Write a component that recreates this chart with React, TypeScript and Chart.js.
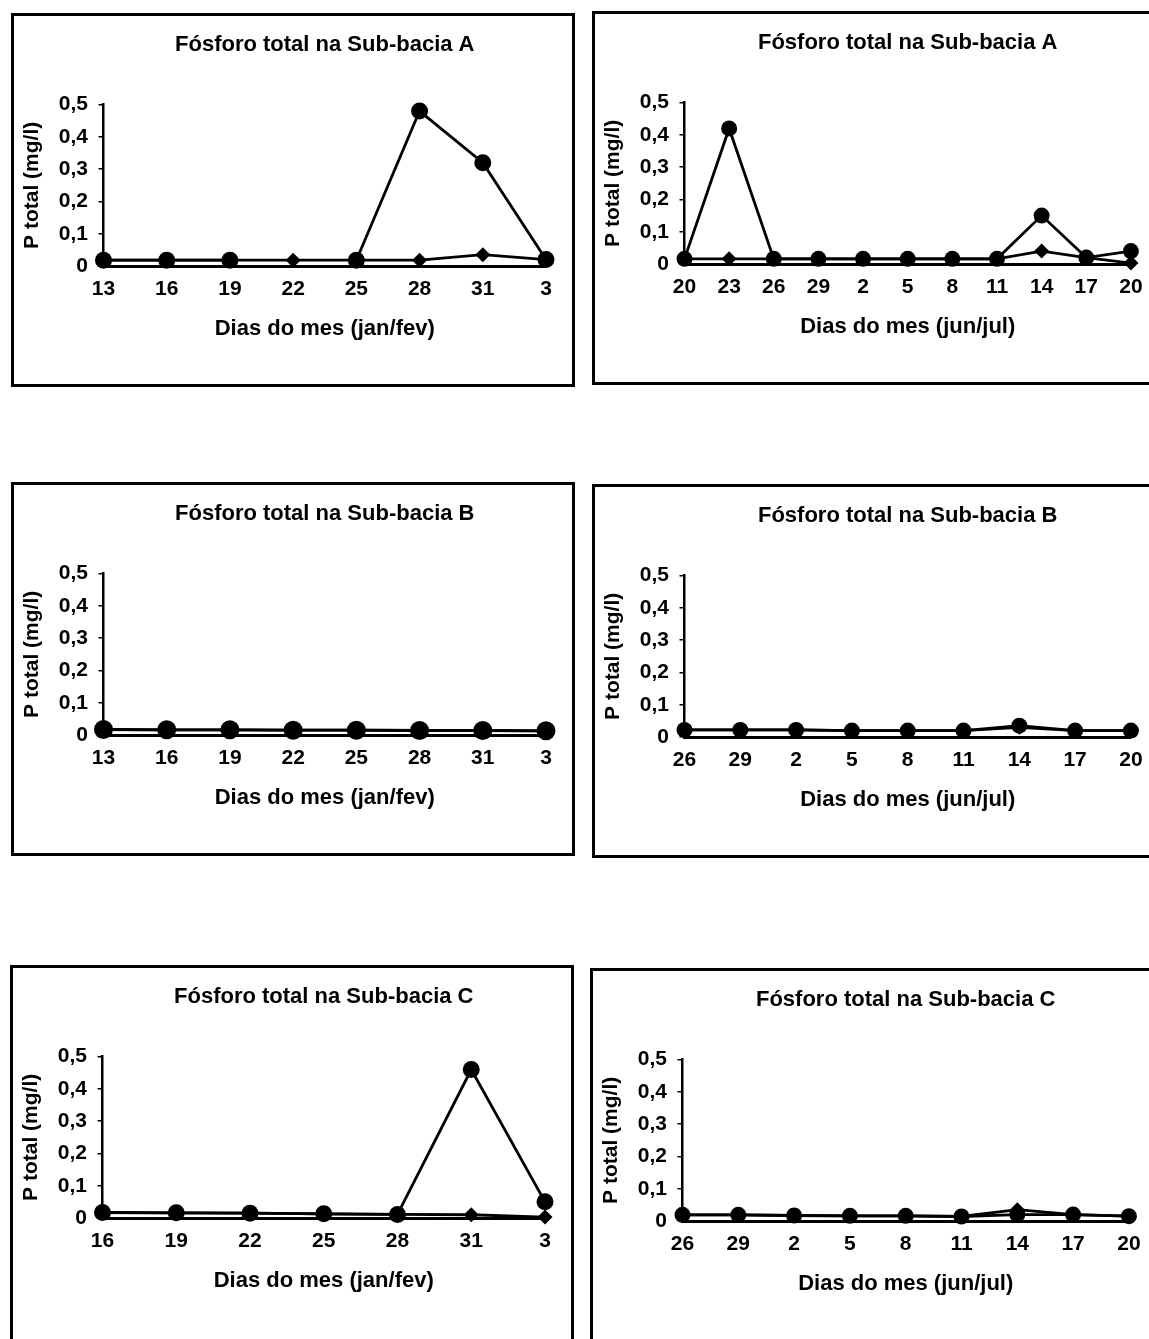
import React, { useEffect, useRef } from "react";
import { Chart, registerables } from "chart.js";

Chart.register(...registerables);

// ---------- data ----------
const titleA = "Fósforo total na Sub-bacia A";
const titleB = "Fósforo total na Sub-bacia B";
const titleC = "Fósforo total na Sub-bacia C";
const xTitleJanFev = "Dias do mes (jan/fev)";
const xTitleJunJul = "Dias do mes (jun/jul)";
const yTitle = "P total (mg/l)";
const yTickValues = [0, 0.1, 0.2, 0.3, 0.4, 0.5];

const daysA1 = ["13", "16", "19", "22", "25", "28", "31", "3"];
const circlesA1 = [0.018, 0.018, 0.018, null, 0.018, 0.48, 0.32, 0.02];
const diamondsA1 = [0.018, 0.018, 0.018, 0.018, 0.018, 0.018, 0.035, 0.02];

const daysA2 = ["20", "23", "26", "29", "2", "5", "8", "11", "14", "17", "20"];
const circlesA2 = [0.016, 0.42, 0.016, 0.016, 0.016, 0.016, 0.016, 0.016, 0.15, 0.02, 0.04];
const diamondsA2 = [0.016, 0.016, 0.016, 0.016, 0.016, 0.016, 0.016, 0.016, 0.04, 0.02, 0.003];

const daysB1 = ["13", "16", "19", "22", "25", "28", "31", "3"];
const circlesB1 = [0.017, 0.016, 0.016, 0.015, 0.015, 0.014, 0.014, 0.013];
const diamondsB1 = [0.017, 0.016, 0.016, 0.015, 0.015, 0.014, 0.014, 0.013];

const daysB2 = ["26", "29", "2", "5", "8", "11", "14", "17", "20"];
const circlesB2 = [0.022, 0.022, 0.022, 0.02, 0.02, 0.02, 0.035, 0.02, 0.02];
const diamondsB2 = [0.022, 0.022, 0.022, 0.02, 0.02, 0.02, 0.03, 0.02, 0.02];

const daysC1 = ["16", "19", "22", "25", "28", "31", "3"];
const circlesC1 = [0.017, 0.016, 0.015, 0.013, 0.011, 0.46, 0.05];
const diamondsC1 = [0.017, 0.016, 0.015, 0.013, 0.011, 0.01, 0.003];

const daysC2 = ["26", "29", "2", "5", "8", "11", "14", "17", "20"];
const circlesC2 = [0.019, 0.019, 0.017, 0.016, 0.016, 0.014, 0.02, 0.02, 0.015];
const diamondsC2 = [0.019, 0.019, 0.017, 0.016, 0.016, 0.014, 0.035, 0.02, 0.015];

// ---------- layout / style ----------
const FONT = '"Liberation Sans", Arial, Helvetica, sans-serif';
const BOX_W = 564;
const BORDER = 3;
const CW = BOX_W - 2 * BORDER;
const CH = 368;
const CHART_LEFT = 89.5;
const CHART_BOTTOM = 250;
const X_SCALE_H = 100;

type PanelCfg = {
  left: number;
  top: number;
  boxH: number;
  chartRight: number;
  circleR: number;
  title: string;
  xTitle: string;
  labels: string[];
  circles: (number | null)[];
  diamonds: (number | null)[];
};

const panels: PanelCfg[] = [
  { left: 11, top: 13, boxH: 374, chartRight: 532, circleR: 8.5, title: titleA, xTitle: xTitleJanFev, labels: daysA1, circles: circlesA1, diamonds: diamondsA1 },
  { left: 592, top: 11, boxH: 374, chartRight: 536.5, circleR: 8, title: titleA, xTitle: xTitleJunJul, labels: daysA2, circles: circlesA2, diamonds: diamondsA2 },
  { left: 11, top: 482, boxH: 374, chartRight: 532, circleR: 9.5, title: titleB, xTitle: xTitleJanFev, labels: daysB1, circles: circlesB1, diamonds: diamondsB1 },
  { left: 592, top: 484, boxH: 374, chartRight: 536.5, circleR: 8, title: titleB, xTitle: xTitleJunJul, labels: daysB2, circles: circlesB2, diamonds: diamondsB2 },
  { left: 10, top: 965, boxH: 390, chartRight: 532, circleR: 8.5, title: titleC, xTitle: xTitleJanFev, labels: daysC1, circles: circlesC1, diamonds: diamondsC1 },
  { left: 590, top: 968, boxH: 390, chartRight: 536.5, circleR: 8, title: titleC, xTitle: xTitleJunJul, labels: daysC2, circles: circlesC2, diamonds: diamondsC2 },
];

function fmt(v: number) {
  if (Math.abs(v) < 1e-9) return "0";
  return v.toFixed(1).replace(".", ",");
}

function Panel({ cfg }: { cfg: PanelCfg }) {
  const ref = useRef<HTMLCanvasElement>(null);
  useEffect(() => {
    const canvas = ref.current;
    if (!canvas) return;
    const chart = new Chart(canvas, {
      type: "line",
      data: {
        labels: cfg.labels,
        datasets: [
          {
            label: "circulos",
            data: cfg.circles,
            borderColor: "#000",
            backgroundColor: "#000",
            borderWidth: 2.8,
            pointStyle: "circle",
            pointRadius: cfg.circleR,
            pointBorderWidth: 0,
            pointBackgroundColor: "#000",
            tension: 0,
            spanGaps: false,
            clip: false as any,
          },
          {
            label: "losangos",
            data: cfg.diamonds,
            borderColor: "#000",
            backgroundColor: "#000",
            borderWidth: 2.8,
            pointStyle: "rectRot",
            pointRadius: 7.5,
            pointBorderWidth: 0,
            pointBackgroundColor: "#000",
            tension: 0,
            spanGaps: false,
            clip: false as any,
          },
        ],
      },
      options: {
        animation: false,
        responsive: false,
        events: [],
        layout: {
          padding: {
            left: 0,
            top: 0,
            right: CW - cfg.chartRight,
            bottom: CH - CHART_BOTTOM - X_SCALE_H,
          },
        },
        plugins: {
          legend: { display: false },
          tooltip: { enabled: false },
          title: {
            display: true,
            text: cfg.title,
            fullSize: false,
            color: "#000",
            font: { family: FONT, size: 22, weight: "bold" },
            padding: { top: 15.4, bottom: 46.8 },
          },
        },
        scales: {
          x: {
            type: "category",
            offset: false,
            grid: { display: false, drawTicks: false },
            border: { display: true, color: "#000", width: 3 },
            ticks: {
              color: "#000",
              font: { family: FONT, size: 21, weight: "bold" },
              padding: 10.4,
              autoSkip: false,
              maxRotation: 0,
              minRotation: 0,
            },
            title: {
              display: true,
              text: cfg.xTitle,
              color: "#000",
              font: { family: FONT, size: 22, weight: "bold" },
              padding: { top: 0, bottom: 24 },
            },
            afterFit: (s: any) => {
              s.height = X_SCALE_H;
            },
          },
          y: {
            type: "linear",
            min: 0,
            max: 0.5,
            grid: {
              display: true,
              drawOnChartArea: false,
              drawTicks: true,
              tickLength: 5,
              color: "#000",
              lineWidth: 1.5,
            },
            border: { display: true, color: "#000", width: 2.5 },
            afterBuildTicks: (s: any) => {
              s.ticks = yTickValues.map((v) => ({ value: v }));
            },
            ticks: {
              color: "#000",
              font: { family: FONT, size: 21, weight: "bold" },
              padding: 10.5,
              callback: (v: any) => fmt(Number(v)),
            },
            title: {
              display: true,
              text: yTitle,
              color: "#000",
              font: { family: FONT, size: 21, weight: "bold" },
              padding: { top: 5.4, bottom: 0 },
            },
            afterFit: (s: any) => {
              s.width = CHART_LEFT;
            },
          },
        },
      } as any,
    });
    return () => chart.destroy();
  }, [cfg]);

  return (
    <div
      style={{
        position: "absolute",
        left: cfg.left,
        top: cfg.top,
        width: BOX_W,
        height: cfg.boxH,
        border: `${BORDER}px solid #000`,
        boxSizing: "border-box",
        background: "#fff",
      }}
    >
      <canvas ref={ref} width={CW} height={CH} style={{ display: "block", width: CW, height: CH }} />
    </div>
  );
}

export default function App() {
  return (
    <div
      style={{
        position: "absolute",
        left: 0,
        top: 0,
        width: 1149,
        height: 1339,
        overflow: "hidden",
        background: "#fff",
      }}
    >
      {panels.map((p, i) => (
        <Panel key={i} cfg={p} />
      ))}
    </div>
  );
}
